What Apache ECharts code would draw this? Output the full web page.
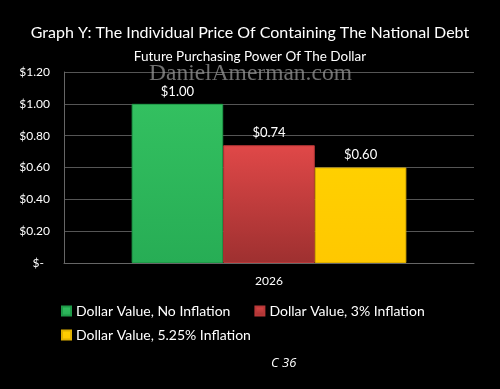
<!DOCTYPE html>
<html><head><meta charset="utf-8">
<script src="https://cdn.jsdelivr.net/npm/echarts@6/dist/echarts.min.js"></script>
<style>html,body{margin:0;padding:0;background:#000}#c{width:500px;height:389px}</style>
</head><body><div id="c"></div>
<script>
const categories = ['2026'];
const seriesNames = ['Dollar Value, No Inflation', 'Dollar Value, 3% Inflation', 'Dollar Value, 5.25% Inflation'];
const noInflation = [1.00];
const inflation3 = [0.74];
const inflation525 = [0.60];
const yTicks = [0, 0.2, 0.4, 0.6, 0.8, 1.0, 1.2];

const F = 'Lato, "Open Sans", sans-serif';
const chart = echarts.init(document.getElementById('c'));
const lbl = {show: true, position: 'top', color: '#fff', fontFamily: F, fontSize: 13, distance: 6,
  formatter: p => '$' + p.value.toFixed(2)};
function grad(a, b) { return new echarts.graphic.LinearGradient(0, 0, 0, 1, [{offset: 0, color: a}, {offset: 1, color: b}]); }
const legText = {color: '#fff', fontFamily: F, fontSize: 14};
chart.setOption({
  backgroundColor: '#000',
  animation: false,
  title: [
    {text: 'Graph Y: The Individual Price Of Containing The National Debt', left: 'center', top: 20,
      textStyle: {color: '#fff', fontFamily: F, fontWeight: 'normal', fontSize: 16}},
    {text: 'Future Purchasing Power Of The Dollar', left: 'center', top: 45,
      textStyle: {color: '#fff', fontFamily: F, fontWeight: 'normal', fontSize: 13.5}},
    {text: 'DanielAmerman.com', left: 144, top: 57, z: 10,
      textStyle: {color: 'rgba(150,150,150,0.75)', fontFamily: '"Liberation Serif", "DejaVu Serif", serif', fontWeight: 'normal', fontSize: 23.5}},
    {text: 'C 36', left: 266, top: 352,
      textStyle: {color: '#fff', fontFamily: '"Open Sans", "Liberation Sans", sans-serif', fontStyle: 'italic', fontWeight: 'normal', fontSize: 13}}
  ],
  grid: {left: 64, right: 26, top: 72, bottom: 126},
  legend: [
    {data: seriesNames.slice(0, 2), left: 56, top: 299, itemWidth: 9, itemHeight: 9, itemGap: 24,
      icon: 'rect', textStyle: legText},
    {data: seriesNames.slice(2), left: 56, top: 323, itemWidth: 9, itemHeight: 9,
      icon: 'rect', textStyle: legText}
  ],
  xAxis: {type: 'category', data: categories,
    axisLine: {lineStyle: {color: '#666'}}, axisTick: {show: false},
    axisLabel: {color: '#fff', fontFamily: F, fontSize: 12, margin: 12}},
  yAxis: {type: 'value', min: 0, max: 1.2, interval: 0.2,
    axisLine: {show: true, lineStyle: {color: '#666'}}, axisTick: {show: false},
    splitLine: {lineStyle: {color: '#555'}},
    axisLabel: {color: '#fff', fontFamily: F, fontSize: 12, margin: 14,
      formatter: v => v === 0 ? '{z|$-}' : '$' + v.toFixed(2),
      rich: {z: {color: '#fff', fontFamily: F, fontSize: 12, padding: [0, 6, 0, 0]}}}},
  series: [
    {name: seriesNames[0], type: 'bar', data: noInflation, barGap: '0%', barCategoryGap: '33%',
      itemStyle: {color: grad('#33c060', '#27ad55'), borderColor: '#1e9a48', borderWidth: 1}, label: lbl},
    {name: seriesNames[1], type: 'bar', data: inflation3,
      itemStyle: {color: grad('#e04848', '#9e3030'), borderColor: '#b83838', borderWidth: 1}, label: lbl},
    {name: seriesNames[2], type: 'bar', data: inflation525,
      itemStyle: {color: grad('#ffd000', '#ffc800'), borderColor: '#e0b000', borderWidth: 1}, label: lbl}
  ]
});
</script></body></html>
